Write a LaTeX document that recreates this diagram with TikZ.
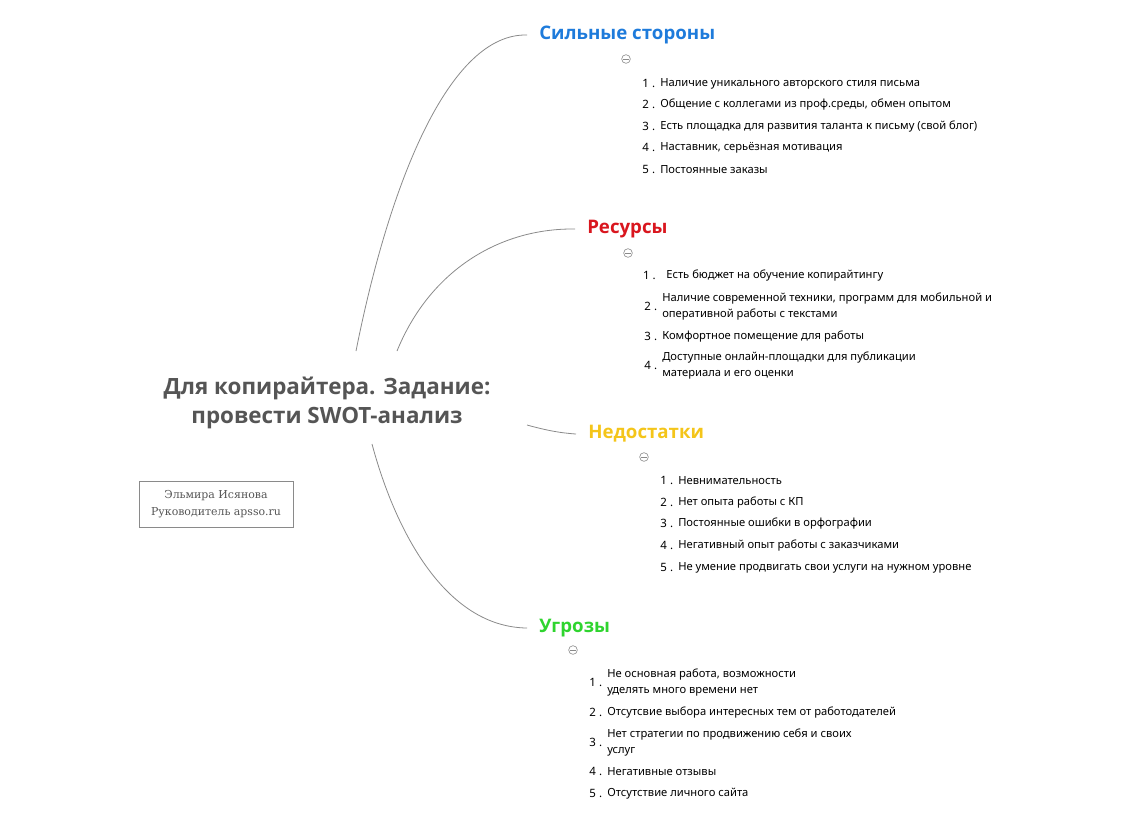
\documentclass[tikz,border=0pt]{standalone}
\usepackage{fontspec}
\setmainfont{Noto Sans}
\newfontfamily\headfont{Open Sans}
\newfontfamily\slabfont{DejaVu Serif}
\usepackage{tikz}
\usetikzlibrary{positioning}
\definecolor{sblue}{HTML}{1E7BDB}
\definecolor{rred}{HTML}{D9161E}
\definecolor{wyellow}{HTML}{F4C51A}
\definecolor{tgreen}{HTML}{2FD42F}
\definecolor{titlegray}{HTML}{555555}
\definecolor{linkgray}{HTML}{8A8A8A}
\tikzset{
  item/.style = {anchor=west, inner sep=0pt, align=left, yshift=-1.5pt,
    font=\fontsize{8.4}{12}\selectfont},% пункт списка
  num/.style = {anchor=east, inner sep=0pt, xshift=-3.5pt,
    text height=6.5pt, text depth=2pt,
    font=\fontsize{8.6}{12}\selectfont},% номер пункта
  branch/.style = {anchor=west, inner xsep=9pt, inner ysep=0pt,
    font=\headfont\bfseries\fontsize{14}{16}\selectfont},% ветка
  fold/.style = {circle, draw=linkgray, line width=0.45pt, minimum size=6.5pt,
    inner sep=0pt, path picture={\draw[linkgray, line width=0.45pt]
      ([xshift=-2pt]path picture bounding box.center) --
      ([xshift=2pt]path picture bounding box.center);}},% значок свернуть
  link/.style = {draw=linkgray, line width=0.6pt}
}

\begin{document}
\begin{tikzpicture}[x=0.75pt,y=-0.75pt]
\useasboundingbox (0,0) rectangle (1137,815);
% центр
\node [align=center, text=titlegray, inner sep=0pt,
  font=\headfont\bfseries\fontsize{16.8}{21.75}\selectfont] (c) at (327,403)
  {Для копирайтера. Задание:\\провести SWOT-анализ};
\node [draw=linkgray, line width=0.6pt, minimum width=115.5pt, minimum height=34.5pt,
  align=center, font=\slabfont\fontsize{8.2}{12.5}\selectfont, text=titlegray] (a) at (216,504)
  {Эльмира Исянова\\Руководитель apsso.ru};
\coordinate (c1) at (356,351);
\coordinate (c2) at (397,351);
\coordinate (c3) at (527,425);
\coordinate (c4) at (372,444);
% ветки
\node [branch, text=sblue] (s) at (527,35) {Сильные стороны};
\node [branch, text=rred] (r) at (575,229) {Ресурсы};
\node [branch, text=wyellow] (w) at (576,434) {Недостатки};
\node [branch, text=tgreen] (t) at (527,628) {Угрозы};
\draw [link] (c1) .. controls (390,180) and (450,33) .. (s.west);
\draw [link] (c2) .. controls (430,270) and (500,228) .. (r.west);
\draw [link] (c3) .. controls (545,430) and (560,433) .. (w.west);
\draw [link] (c4) .. controls (395,530) and (445,627) .. (t.west);
\node [fold] (fs) at (626,59) {};
\node [fold] (fr) at (628,253) {};
\node [fold] (fw) at (644,457) {};
\node [fold] (ft) at (573,650) {};
% сильные стороны
\node [item] (s1) at (660,82) {Наличие уникального авторского стиля письма};
\node [item] (s2) at (660,103) {Общение с коллегами из проф.среды, обмен опытом};
\node [item] (s3) at (660,125) {Есть площадка для развития таланта к письму (свой блог)};
\node [item] (s4) at (660,146) {Наставник, серьёзная мотивация};
\node [item] (s5) at (660,168) {Постоянные заказы};
\node at (s1.west) [num] {1 .};
\node at (s2.west) [num] {2 .};
\node at (s3.west) [num] {3 .};
\node at (s4.west) [num] {4 .};
\node at (s5.west) [num] {5 .};
% ресурсы
\node [item] (r1) at (666,274) {Есть бюджет на обучение копирайтингу};
\node [item] (r2) at (662,305) {Наличие современной техники, программ для мобильной и\\оперативной работы с текстами};
\node [item] (r3) at (662,335) {Комфортное помещение для работы};
\node [item] (r4) at (662,364) {Доступные онлайн-площадки для публикации\\материала и его оценки};
\node at (r1.west) [num, xshift=-4pt] {1 .};
\node at (r2.west) [num] {2 .};
\node at (r3.west) [num] {3 .};
\node at (r4.west) [num] {4 .};
% недостатки
\node [item] (w1) at (678,479) {Невнимательность};
\node [item] (w2) at (678,501) {Нет опыта работы с КП};
\node [item] (w3) at (678,522) {Постоянные ошибки в орфографии};
\node [item] (w4) at (678,544) {Негативный опыт работы с заказчиками};
\node [item] (w5) at (678,566) {Не умение продвигать свои услуги на нужном уровне};
\node at (w1.west) [num] {1 .};
\node at (w2.west) [num] {2 .};
\node at (w3.west) [num] {3 .};
\node at (w4.west) [num] {4 .};
\node at (w5.west) [num] {5 .};
% угрозы
\node [item] (t1) at (607,681) {Не основная работа, возможности\\уделять много времени нет};
\node [item] (t2) at (607,711) {Отсутсвие выбора интересных тем от работодателей};
\node [item] (t3) at (607,741) {Нет стратегии по продвижению себя и своих\\услуг};
\node [item] (t4) at (607,770) {Негативные отзывы};
\node [item] (t5) at (607,792) {Отсутствие личного сайта};
\node at (t1.west) [num] {1 .};
\node at (t2.west) [num] {2 .};
\node at (t3.west) [num] {3 .};
\node at (t4.west) [num] {4 .};
\node at (t5.west) [num] {5 .};
\end{tikzpicture}
\end{document}
